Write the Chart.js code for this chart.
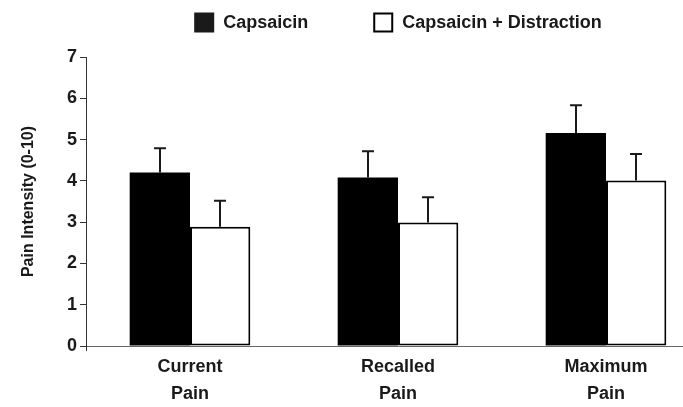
<!DOCTYPE html>
<html>
<head>
<meta charset="utf-8">
<script src="https://cdn.jsdelivr.net/npm/chart.js@4.4.0/dist/chart.umd.min.js"></script>
<style>
  html, body { margin: 0; padding: 0; background: #fff; overflow: hidden; }
  #wrap { width: 683px; height: 407px; overflow: hidden; position: relative; }
  #box { width: 712px; height: 407px; position: absolute; left: 0; top: 0; }
</style>
</head>
<body>
<div id="wrap"><div id="box"><canvas id="c"></canvas></div></div>
<script>
const categories = [['Current', 'Pain'], ['Recalled', 'Pain'], ['Maximum', 'Pain']];
const seriesNames = ['Capsaicin', 'Capsaicin + Distraction'];
const capsaicin = [4.20, 4.08, 5.16];
const capsaicinErr = [0.59, 0.64, 0.67];
const distraction = [2.89, 2.99, 4.01];
const distractionErr = [0.63, 0.61, 0.64];
const yTicks = [0, 1, 2, 3, 4, 5, 6, 7];
const yTitle = 'Pain Intensity (0-10)';

const FONT = '"Liberation Sans", Arial, sans-serif';

const errorBars = {
  id: 'errorBars',
  afterDatasetsDraw(chart) {
    const ctx = chart.ctx;
    const y = chart.scales.y;
    chart.data.datasets.forEach((ds, i) => {
      const meta = chart.getDatasetMeta(i);
      meta.data.forEach((bar, j) => {
        const v = ds.data[j];
        const e = ds.errors[j];
        const x = Math.round(bar.x);
        const yTop = y.getPixelForValue(v);
        const yCap = y.getPixelForValue(v + e);
        ctx.save();
        ctx.strokeStyle = '#1a1a1a';
        ctx.lineWidth = 2;
        ctx.beginPath();
        ctx.moveTo(x, yTop);
        ctx.lineTo(x, yCap);
        ctx.moveTo(x - 6, yCap);
        ctx.lineTo(x + 6, yCap);
        ctx.stroke();
        ctx.restore();
      });
    });
  }
};

const axisStub = {
  id: 'axisStub',
  afterDraw(chart) {
    const ctx = chart.ctx;
    const a = chart.chartArea;
    ctx.save();
    ctx.strokeStyle = '#333333';
    ctx.lineWidth = 1;
    ctx.beginPath();
    ctx.moveTo(a.left + 0.5, a.bottom);
    ctx.lineTo(a.left + 0.5, a.bottom + 5);
    ctx.stroke();
    ctx.restore();
  }
};

const customLegend = {
  id: 'customLegend',
  afterDraw(chart) {
    const ctx = chart.ctx;
    const area = chart.chartArea;
    ctx.save();
    ctx.font = 'bold 18px ' + FONT;
    const box = 20, gapText = 9, gapItem = 65;
    const widths = chart.data.datasets.map(ds => box + gapText + ctx.measureText(ds.label).width);
    const total = widths.reduce((a, b) => a + b, 0) + gapItem * (widths.length - 1);
    let x = (area.left + area.right) / 2 - total / 2;
    const cy = 22.5;
    chart.data.datasets.forEach((ds, i) => {
      if (ds.backgroundColor === '#000000') {
        ctx.fillStyle = '#1a1a1a';
        ctx.fillRect(x, cy - 10, box, box);
      } else {
        ctx.fillStyle = '#ffffff';
        ctx.fillRect(x, cy - 10, box, box);
        ctx.strokeStyle = '#000';
        ctx.lineWidth = 2;
        ctx.strokeRect(x + 1, cy - 9, box - 2, box - 2);
      }
      ctx.fillStyle = '#1a1a1a';
      ctx.textBaseline = 'middle';
      ctx.textAlign = 'left';
      ctx.fillText(ds.label, x + box + gapText, cy + 1);
      x += widths[i] + gapItem;
    });
    ctx.restore();
  }
};

new Chart(document.getElementById('c'), {
  type: 'bar',
  data: {
    labels: categories,
    datasets: [
      {
        label: seriesNames[0],
        data: capsaicin,
        errors: capsaicinErr,
        backgroundColor: '#000000',
        borderColor: '#000000',
        borderWidth: 0
      },
      {
        label: seriesNames[1],
        data: distraction,
        errors: distractionErr,
        backgroundColor: '#ffffff',
        borderColor: '#000000',
        borderWidth: 2,
        borderSkipped: false
      }
    ]
  },
  options: {
    responsive: true,
    maintainAspectRatio: false,
    animation: false,
    devicePixelRatio: 1,
    categoryPercentage: 0.58,
    barPercentage: 1.0,
    layout: { padding: { top: 57, right: 2, left: 0, bottom: 0 } },
    plugins: {
      legend: { display: false },
      tooltip: { enabled: false }
    },
    scales: {
      x: {
        afterFit(scale) { scale.height = 61; },
        grid: { drawOnChartArea: false, drawTicks: false },
        border: { display: true, color: '#666666', width: 1 },
        ticks: {
          padding: 8,
          color: '#1a1a1a',
          font: { family: FONT, size: 18, weight: 'bold', lineHeight: 1.5 }
        }
      },
      y: {
        min: 0,
        max: 7,
        afterFit(scale) { scale.width = 86; },
        afterBuildTicks(scale) { scale.ticks = yTicks.map(v => ({ value: v })); },
        grid: { drawOnChartArea: false, drawTicks: true, tickLength: 6, color: '#333333' },
        border: { display: true, color: '#333333', width: 1 },
        ticks: {
          padding: 3,
          color: '#1a1a1a',
          font: { family: FONT, size: 18, weight: 'bold' }
        },
        title: {
          display: true,
          text: yTitle,
          color: '#1a1a1a',
          padding: { top: 19, bottom: 0 },
          font: { family: FONT, size: 16, weight: 'bold' }
        }
      }
    }
  },
  plugins: [errorBars, axisStub, customLegend]
});
</script>
</body>
</html>
